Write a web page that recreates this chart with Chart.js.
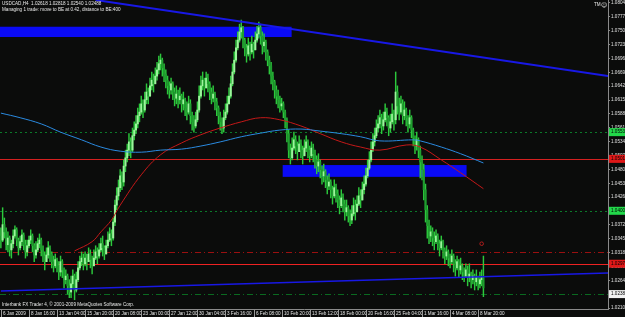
<!DOCTYPE html>
<html>
<head>
<meta charset="utf-8">
<script src="https://cdn.jsdelivr.net/npm/chart.js@4.4.1/dist/chart.umd.min.js"></script>
<style>
  html, body { margin: 0; padding: 0; background: #0b0c0b; }
  #chart { display: block; }
</style>
</head>
<body>
<canvas id="chart" width="625" height="317"></canvas>
<script>
// time labels, one every 16 H4 bars
const timeLabels = ['6 Jan 2009', '8 Jan 16:00', '13 Jan 04:00', '15 Jan 20:00', '20 Jan 08:00',
  '23 Jan 00:00', '27 Jan 12:00', '30 Jan 04:00', '3 Feb 16:00', '6 Feb 08:00', '10 Feb 20:00',
  '13 Feb 12:00', '18 Feb 00:00', '20 Feb 16:00', '25 Feb 04:00', '1 Mar 16:00', '4 Mar 08:00',
  '8 Mar 20:00'];
const barsPerLabel = 16;

const priceTicks = [1.08045, 1.07775, 1.07505, 1.07235, 1.06965, 1.06695, 1.06425, 1.06155,
  1.05885, 1.05615, 1.05345, 1.05075, 1.04805, 1.04535, 1.04265, 1.03995, 1.03725, 1.03455,
  1.03185, 1.02915, 1.02645, 1.02375, 1.02105];

// H4 bars (open = previous close)
const firstOpen = 1.0351;
const closes = [
  1.0343, 1.0373, 1.0359, 1.0334, 1.0347, 1.0324, 1.0336, 1.0351,
  1.0363, 1.0343, 1.0328, 1.0340, 1.0353, 1.0334, 1.0320, 1.0332,
  1.0343, 1.0351, 1.0332, 1.0314, 1.0324, 1.0336, 1.0343, 1.0324,
  1.0312, 1.0301, 1.0314, 1.0328, 1.0316, 1.0301, 1.0293, 1.0305,
  1.0293, 1.0281, 1.0301, 1.0285, 1.0266, 1.0273, 1.0254, 1.0242,
  1.0258, 1.0273, 1.0246, 1.0266, 1.0289, 1.0301, 1.0308, 1.0297,
  1.0308, 1.0301, 1.0316, 1.0305, 1.0293, 1.0308, 1.0320, 1.0312,
  1.0324, 1.0336, 1.0328, 1.0316, 1.0332, 1.0343, 1.0355, 1.0347,
  1.0378, 1.0411, 1.0429, 1.0445, 1.0468, 1.0456, 1.0487, 1.0503,
  1.0518, 1.0534, 1.0518, 1.0546, 1.0557, 1.0569, 1.0585, 1.0592,
  1.0608, 1.0596, 1.0616, 1.0631, 1.0623, 1.0643, 1.0654, 1.0647,
  1.0662, 1.0674, 1.0686, 1.0693, 1.0678, 1.0666, 1.0654, 1.0643,
  1.0635, 1.0647, 1.0631, 1.0619, 1.0627, 1.0616, 1.0623, 1.0608,
  1.0616, 1.0600, 1.0592, 1.0608, 1.0585, 1.0573, 1.0565, 1.0577,
  1.0596, 1.0623, 1.0643, 1.0654, 1.0639, 1.0658, 1.0647, 1.0631,
  1.0619, 1.0627, 1.0612, 1.0600, 1.0585, 1.0573, 1.0561, 1.0581,
  1.0592, 1.0608, 1.0623, 1.0647, 1.0670, 1.0693, 1.0717, 1.0732,
  1.0748, 1.0756, 1.0732, 1.0717, 1.0705, 1.0721, 1.0709, 1.0724,
  1.0713, 1.0732, 1.0744, 1.0756, 1.0740, 1.0721, 1.0728, 1.0709,
  1.0693, 1.0682, 1.0662, 1.0651, 1.0635, 1.0623, 1.0616, 1.0604,
  1.0608, 1.0592, 1.0577, 1.0550, 1.0518, 1.0503, 1.0522, 1.0538,
  1.0526, 1.0515, 1.0530, 1.0518, 1.0507, 1.0522, 1.0534, 1.0518,
  1.0507, 1.0522, 1.0511, 1.0499, 1.0487, 1.0495, 1.0480, 1.0468,
  1.0476, 1.0460, 1.0448, 1.0456, 1.0441, 1.0429, 1.0445, 1.0433,
  1.0421, 1.0410, 1.0425, 1.0413, 1.0398, 1.0406, 1.0390, 1.0382,
  1.0394, 1.0410, 1.0398, 1.0413, 1.0429, 1.0421, 1.0441, 1.0452,
  1.0468, 1.0483, 1.0499, 1.0518, 1.0534, 1.0546, 1.0561, 1.0569,
  1.0581, 1.0565, 1.0577, 1.0592, 1.0581, 1.0561, 1.0573, 1.0588,
  1.0577, 1.0631, 1.0604, 1.0592, 1.0608, 1.0585, 1.0596, 1.0581,
  1.0569, 1.0581, 1.0557, 1.0542, 1.0526, 1.0538, 1.0518, 1.0495,
  1.0480, 1.0441, 1.0402, 1.0371, 1.0351, 1.0359, 1.0347, 1.0340,
  1.0351, 1.0336, 1.0328, 1.0340, 1.0324, 1.0312, 1.0320, 1.0308,
  1.0301, 1.0312, 1.0297, 1.0289, 1.0301, 1.0285, 1.0293, 1.0281,
  1.0273, 1.0285, 1.0270, 1.0277, 1.0266, 1.0273, 1.0262, 1.0270,
  1.0258, 1.0266, 1.0270, 1.0250
];
const highs = [
  1.0367, 1.0406, 1.0386, 1.0367, 1.0359, 1.0351, 1.0343, 1.0363,
  1.0371, 1.0367, 1.0347, 1.0351, 1.0363, 1.0357, 1.0343, 1.0343,
  1.0351, 1.0363, 1.0355, 1.0336, 1.0340, 1.0347, 1.0355, 1.0347,
  1.0332, 1.0320, 1.0328, 1.0340, 1.0332, 1.0320, 1.0312, 1.0316,
  1.0308, 1.0301, 1.0312, 1.0305, 1.0289, 1.0285, 1.0277, 1.0266,
  1.0273, 1.0285, 1.0277, 1.0281, 1.0301, 1.0312, 1.0320, 1.0316,
  1.0320, 1.0316, 1.0328, 1.0324, 1.0312, 1.0324, 1.0332, 1.0328,
  1.0336, 1.0347, 1.0351, 1.0332, 1.0343, 1.0359, 1.0367, 1.0363,
  1.0386, 1.0421, 1.0445, 1.0460, 1.0480, 1.0476, 1.0499, 1.0518,
  1.0530, 1.0550, 1.0542, 1.0561, 1.0573, 1.0585, 1.0600, 1.0608,
  1.0623, 1.0616, 1.0631, 1.0647, 1.0639, 1.0658, 1.0670, 1.0666,
  1.0678, 1.0689, 1.0701, 1.0705, 1.0697, 1.0686, 1.0674, 1.0662,
  1.0651, 1.0658, 1.0651, 1.0639, 1.0643, 1.0635, 1.0639, 1.0627,
  1.0631, 1.0619, 1.0612, 1.0623, 1.0616, 1.0592, 1.0585, 1.0592,
  1.0612, 1.0643, 1.0662, 1.0670, 1.0658, 1.0670, 1.0666, 1.0651,
  1.0639, 1.0643, 1.0631, 1.0619, 1.0604, 1.0592, 1.0581, 1.0596,
  1.0608, 1.0623, 1.0639, 1.0662, 1.0686, 1.0709, 1.0732, 1.0748,
  1.0763, 1.0771, 1.0759, 1.0736, 1.0724, 1.0736, 1.0728, 1.0740,
  1.0728, 1.0748, 1.0759, 1.0767, 1.0763, 1.0748, 1.0744, 1.0732,
  1.0713, 1.0701, 1.0689, 1.0670, 1.0654, 1.0643, 1.0635, 1.0623,
  1.0619, 1.0612, 1.0596, 1.0581, 1.0557, 1.0530, 1.0542, 1.0553,
  1.0546, 1.0534, 1.0546, 1.0538, 1.0526, 1.0538, 1.0546, 1.0538,
  1.0526, 1.0534, 1.0530, 1.0518, 1.0507, 1.0511, 1.0499, 1.0487,
  1.0491, 1.0480, 1.0468, 1.0472, 1.0460, 1.0448, 1.0460, 1.0452,
  1.0441, 1.0429, 1.0441, 1.0433, 1.0421, 1.0421, 1.0410, 1.0402,
  1.0410, 1.0425, 1.0421, 1.0429, 1.0445, 1.0441, 1.0456, 1.0468,
  1.0483, 1.0499, 1.0515, 1.0534, 1.0550, 1.0561, 1.0577, 1.0585,
  1.0596, 1.0588, 1.0592, 1.0608, 1.0600, 1.0585, 1.0588, 1.0608,
  1.0596, 1.0670, 1.0643, 1.0619, 1.0623, 1.0616, 1.0612, 1.0600,
  1.0585, 1.0596, 1.0585, 1.0561, 1.0546, 1.0553, 1.0542, 1.0526,
  1.0507, 1.0491, 1.0452, 1.0410, 1.0382, 1.0371, 1.0367, 1.0359,
  1.0363, 1.0355, 1.0343, 1.0351, 1.0343, 1.0328, 1.0332, 1.0324,
  1.0316, 1.0324, 1.0316, 1.0305, 1.0312, 1.0305, 1.0308, 1.0297,
  1.0289, 1.0297, 1.0293, 1.0297, 1.0281, 1.0285, 1.0277, 1.0285,
  1.0273, 1.0281, 1.0285, 1.0312
];
const lows = [
  1.0328, 1.0340, 1.0347, 1.0324, 1.0320, 1.0312, 1.0308, 1.0328,
  1.0347, 1.0332, 1.0314, 1.0324, 1.0332, 1.0324, 1.0308, 1.0312,
  1.0328, 1.0336, 1.0320, 1.0301, 1.0308, 1.0320, 1.0328, 1.0312,
  1.0301, 1.0285, 1.0301, 1.0308, 1.0301, 1.0289, 1.0281, 1.0289,
  1.0281, 1.0266, 1.0273, 1.0270, 1.0250, 1.0258, 1.0238, 1.0231,
  1.0231, 1.0250, 1.0227, 1.0242, 1.0262, 1.0285, 1.0293, 1.0285,
  1.0293, 1.0285, 1.0301, 1.0289, 1.0277, 1.0293, 1.0305, 1.0297,
  1.0308, 1.0320, 1.0312, 1.0305, 1.0316, 1.0328, 1.0340, 1.0332,
  1.0343, 1.0371, 1.0402, 1.0421, 1.0437, 1.0441, 1.0448, 1.0476,
  1.0495, 1.0507, 1.0503, 1.0515, 1.0538, 1.0550, 1.0561, 1.0573,
  1.0588, 1.0581, 1.0592, 1.0608, 1.0608, 1.0623, 1.0635, 1.0631,
  1.0647, 1.0654, 1.0666, 1.0674, 1.0662, 1.0651, 1.0639, 1.0627,
  1.0619, 1.0627, 1.0616, 1.0604, 1.0608, 1.0600, 1.0608, 1.0592,
  1.0596, 1.0585, 1.0577, 1.0588, 1.0569, 1.0557, 1.0553, 1.0561,
  1.0573, 1.0592, 1.0619, 1.0635, 1.0623, 1.0639, 1.0631, 1.0616,
  1.0608, 1.0612, 1.0596, 1.0585, 1.0569, 1.0557, 1.0550, 1.0553,
  1.0577, 1.0588, 1.0608, 1.0619, 1.0643, 1.0666, 1.0689, 1.0713,
  1.0728, 1.0736, 1.0717, 1.0701, 1.0689, 1.0701, 1.0693, 1.0705,
  1.0697, 1.0713, 1.0728, 1.0736, 1.0724, 1.0705, 1.0709, 1.0693,
  1.0682, 1.0666, 1.0647, 1.0635, 1.0619, 1.0608, 1.0600, 1.0592,
  1.0596, 1.0581, 1.0561, 1.0534, 1.0503, 1.0491, 1.0499, 1.0518,
  1.0511, 1.0499, 1.0515, 1.0503, 1.0491, 1.0507, 1.0515, 1.0503,
  1.0495, 1.0503, 1.0495, 1.0483, 1.0472, 1.0476, 1.0464, 1.0452,
  1.0456, 1.0445, 1.0433, 1.0441, 1.0425, 1.0413, 1.0425, 1.0417,
  1.0406, 1.0394, 1.0406, 1.0398, 1.0382, 1.0390, 1.0378, 1.0371,
  1.0375, 1.0390, 1.0382, 1.0398, 1.0410, 1.0406, 1.0421, 1.0433,
  1.0448, 1.0464, 1.0480, 1.0495, 1.0515, 1.0526, 1.0542, 1.0553,
  1.0561, 1.0550, 1.0557, 1.0573, 1.0565, 1.0546, 1.0553, 1.0569,
  1.0557, 1.0569, 1.0588, 1.0577, 1.0588, 1.0569, 1.0577, 1.0565,
  1.0553, 1.0561, 1.0542, 1.0526, 1.0511, 1.0518, 1.0503, 1.0464,
  1.0460, 1.0421, 1.0378, 1.0347, 1.0336, 1.0340, 1.0332, 1.0324,
  1.0336, 1.0324, 1.0312, 1.0324, 1.0308, 1.0297, 1.0305, 1.0293,
  1.0289, 1.0297, 1.0281, 1.0273, 1.0285, 1.0270, 1.0277, 1.0266,
  1.0262, 1.0270, 1.0254, 1.0262, 1.0250, 1.0258, 1.0246, 1.0254,
  1.0246, 1.0250, 1.0254, 1.0233
];
const opens = closes.map((c, i) => (i === 0 ? firstOpen : closes[i - 1]));

// moving averages, read at a few bars
const maBlueBars = [0, 11, 23, 34, 46, 57, 68, 80, 91, 103, 114, 125, 137, 148, 159, 171, 182, 194, 205, 216, 235, 239, 251, 262, 275];
const maBlue = [1.0590, 1.0581, 1.0569, 1.0553, 1.0538, 1.0524, 1.0516, 1.0514, 1.0518, 1.0520, 1.0526, 1.0534, 1.0544,
  1.0551, 1.0557, 1.0559, 1.0555, 1.0550, 1.0544, 1.0536, 1.0538, 1.0536, 1.0524, 1.0511, 1.0493];
const maRedBars = [42, 52, 57, 63, 68, 80, 91, 103, 114, 125, 137, 148, 159, 171, 182, 194, 205, 216, 231, 239, 251, 262, 275];
const maRed = [1.0322, 1.0340, 1.0359, 1.0382, 1.0411, 1.0470, 1.0509, 1.0532, 1.0548, 1.0561, 1.0573, 1.0581, 1.0577, 1.0565,
  1.0550, 1.0534, 1.0524, 1.0518, 1.0528, 1.0524, 1.0499, 1.0474, 1.0443];

// trend lines [bar, price] pairs
const upperTrend = [[54, 1.0810], [346, 1.0662]];
const lowerTrend = [[0, 1.0244], [346, 1.0279]];

// zones: [fromBar, toBar, topPrice, bottomPrice]
const zones = [[-1, 165.7, 1.0758, 1.0738], [160.6, 265.4, 1.0489, 1.0466]];

// marker above the last bars [bar, price]
const marker = [274, 1.0336];

// horizontal levels
const levels = [
  { price: 1.0553, color: '#0b7a2a', dash: [2, 3], box: '#22d84a', text: '1.05530' },
  { price: 1.0501, color: '#d42020', dash: [], box: '#e01818', text: '1.05010' },
  { price: 1.0400, color: '#0b7a2a', dash: [2, 3], box: '#22d84a', text: '1.04000' },
  { price: 1.0320, color: '#9a1010', dash: [6, 3, 1, 3], box: null, text: '' },
  { price: 1.0297, color: '#ee2222', dash: [], box: '#e01818', text: '1.02970' },
  { price: 1.0238, color: '#0a6a20', dash: [6, 3, 1, 3], box: '#f0f0f0', text: '1.02380' }
];

const bg = '#0b0c0b';
const bull = '#9cf59c';
const bear = '#1f9e2f';
const wick = '#2cc83c';
const smallFont = '4.6px "Liberation Sans", Arial, sans-serif';

const overlays = {
  id: 'overlays',
  beforeDraw(chart) {
    const c = chart.ctx;
    c.save();
    c.fillStyle = bg;
    c.fillRect(0, 0, chart.width, chart.height);
    c.restore();
  },
  beforeDatasetsDraw(chart) {
    const c = chart.ctx;
    const xs = chart.scales.x, ys = chart.scales.y, a = chart.chartArea;
    c.save();
    c.beginPath();
    c.rect(a.left, a.top, a.right - a.left, a.bottom - a.top);
    c.clip();
    zones.forEach(z => {
      const x1 = xs.getPixelForValue(z[0]), x2 = xs.getPixelForValue(z[1]);
      const y1 = ys.getPixelForValue(z[2]), y2 = ys.getPixelForValue(z[3]);
      c.fillStyle = '#0a0af5';
      c.fillRect(x1, y1, x2 - x1, y2 - y1);
    });
    levels.forEach(l => {
      const y = Math.round(ys.getPixelForValue(l.price)) + 0.5;
      c.strokeStyle = l.color;
      c.lineWidth = 1;
      c.setLineDash(l.dash);
      c.beginPath();
      c.moveTo(a.left, y);
      c.lineTo(a.right, y);
      c.stroke();
    });
    c.restore();
  },
  afterDraw(chart) {
    const c = chart.ctx;
    const xs = chart.scales.x, ys = chart.scales.y, a = chart.chartArea;
    c.save();
    c.font = smallFont;
    c.textBaseline = 'middle';
    // price boxes on the right axis
    levels.forEach(l => {
      if (!l.box) return;
      const y = ys.getPixelForValue(l.price);
      c.fillStyle = l.box;
      c.fillRect(a.right + 1, y - 4, chart.width - a.right, 8);
      c.fillStyle = '#000';
      c.fillText(l.text, a.right + 3, y);
    });
    // time axis: separators and labels
    c.strokeStyle = '#9a9a9a';
    c.lineWidth = 1;
    timeLabels.forEach((t, k) => {
      const x = Math.round(xs.getPixelForValue(k * barsPerLabel)) + 0.5;
      c.beginPath();
      c.moveTo(x, a.bottom + 1);
      c.lineTo(x, a.bottom + 8);
      c.stroke();
      c.fillStyle = '#e4e4e4';
      c.fillText(t, x + 1.5, a.bottom + 4.5);
    });
    // header and footer text
    c.fillStyle = '#e8e8e8';
    c.fillText('USDCAD,H4  1.02618 1.02818 1.02540 1.02488', 2, 4);
    c.fillText('Managing 1 trade: move to BE at 0.42, distance to BE:400', 2, 10);
    c.fillText('Interbank FX Trader 4, \u00a9 2001-2009 MetaQuotes Software Corp.', 2, 305);
    c.fillText('TM', 594, 5);
    c.font = '6px "DejaVu Sans", sans-serif';
    c.fillText('\u263A', 601, 5);
    c.restore();
  }
};

const trendDataset = (pts, color, width) => ({
  type: 'line',
  data: pts.map(p => ({ x: p[0], y: p[1] })),
  borderColor: color,
  borderWidth: width,
  pointRadius: 0,
  order: 1
});

new Chart(document.getElementById('chart'), {
  type: 'bar',
  data: {
    datasets: [
      {
        type: 'line',
        data: maBlueBars.map((b, i) => ({ x: b, y: maBlue[i] })),
        borderColor: '#2a8ae0',
        borderWidth: 1,
        pointRadius: 0,
        tension: 0.4,
        order: 2
      },
      {
        type: 'line',
        data: maRedBars.map((b, i) => ({ x: b, y: maRed[i] })),
        borderColor: '#c41818',
        borderWidth: 1,
        pointRadius: 0,
        tension: 0.4,
        order: 2
      },
      {
        data: highs.map((h, i) => ({ x: i, y: [lows[i], h] })),
        backgroundColor: wick,
        barThickness: 0.8,
        grouped: false,
        order: 4
      },
      {
        data: closes.map((c, i) => ({ x: i, y: [opens[i], c] })),
        backgroundColor: ctx => (closes[ctx.dataIndex] >= opens[ctx.dataIndex] ? bull : bear),
        barThickness: 1.4,
        grouped: false,
        order: 3
      },
      trendDataset(upperTrend, '#1818e6', 2),
      trendDataset(lowerTrend, '#1818e6', 1.5),
      {
        type: 'scatter',
        data: [{ x: marker[0], y: marker[1] }],
        pointRadius: 1.8,
        pointBorderColor: '#d02020',
        pointBackgroundColor: 'rgba(0,0,0,0)',
        pointBorderWidth: 0.8,
        order: 0
      }
    ]
  },
  options: {
    responsive: false,
    animation: false,
    devicePixelRatio: 1,
    layout: { padding: 0, autoPadding: false },
    plugins: { legend: { display: false }, tooltip: { enabled: false } },
    scales: {
      x: {
        type: 'linear',
        min: -0.5,
        max: 346,
        offset: false,
        afterFit: s => { s.height = 8; s.paddingLeft = 0; s.paddingRight = 0; },
        grid: { display: false },
        border: { display: true, color: '#8a8a8a' },
        ticks: { display: false }
      },
      y: {
        position: 'right',
        min: 1.0209,
        max: 1.0810,
        afterBuildTicks: s => { s.ticks = priceTicks.map(v => ({ value: v })); },
        afterFit: s => { s.width = 17; s.paddingTop = 0; s.paddingBottom = 0; },
        grid: { drawOnChartArea: false, tickLength: 2, color: '#8a8a8a' },
        border: { display: true, color: '#8a8a8a' },
        ticks: {
          padding: 1,
          color: '#e0e0e0',
          font: { size: 4.6, family: '"Liberation Sans", Arial, sans-serif' },
          callback: v => v.toFixed(5)
        }
      }
    }
  },
  plugins: [overlays]
});
</script>
</body>
</html>
